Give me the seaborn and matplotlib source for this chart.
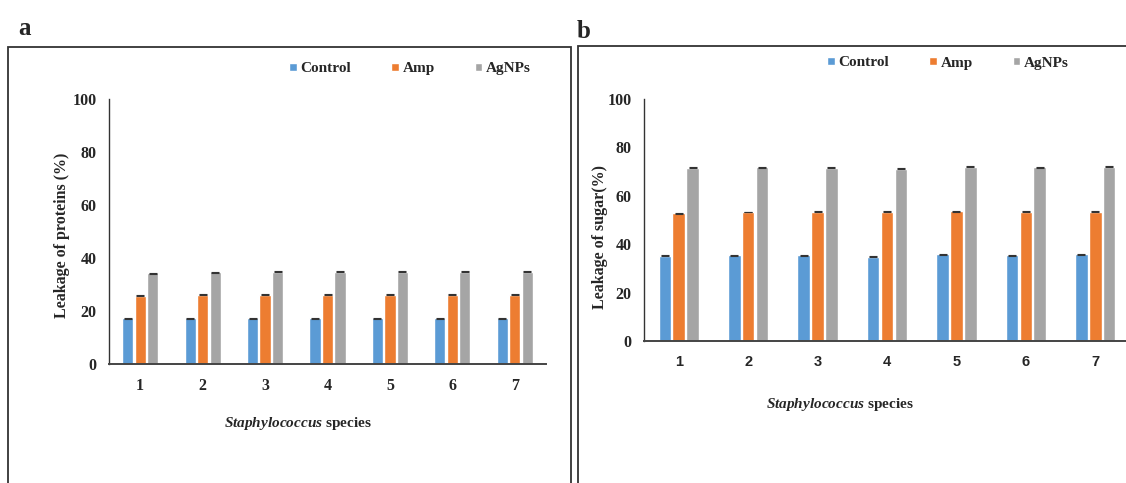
import numpy as np
import pandas as pd
import matplotlib
matplotlib.use("Agg")
import matplotlib.pyplot as plt
from matplotlib.patches import Rectangle
from matplotlib.container import BarContainer
import seaborn as sns

# ── Données ─────────────────────────────────────────────────────
species = ["1", "2", "3", "4", "5", "6", "7"]
treatments = ["Control", "Amp", "AgNPs"]

protein_control = [17.2, 17.2, 17.2, 17.2, 17.2, 17.2, 17.2]
protein_amp = [25.8, 26.1, 26.1, 26.1, 26.1, 26.1, 26.1]
protein_agnps = [34.3, 34.6, 34.9, 34.9, 34.9, 34.9, 34.9]

sugar_control = [35.2, 35.5, 35.5, 34.9, 35.8, 35.5, 35.8]
sugar_amp = [52.8, 53.3, 53.5, 53.5, 53.7, 53.5, 53.5]
sugar_agnps = [71.5, 71.8, 71.5, 71.1, 72.1, 71.8, 72.1]

sd = 0.2  # barres d'erreur très petites

colors = ["#5B9BD5", "#ED7D31", "#A5A5A5"]

sns.set_theme(style="white")
plt.rcParams["font.family"] = ["Liberation Serif", "DejaVu Serif"]
plt.rcParams["font.weight"] = "bold"
plt.rcParams["mathtext.fontset"] = "custom"
plt.rcParams["mathtext.it"] = "Liberation Serif:italic:bold"
plt.rcParams["mathtext.rm"] = "Liberation Serif:bold"

W, H = 1126, 483
fig = plt.figure(figsize=(W / 100, H / 100), dpi=100)


def long_df(ctrl, amp, ag):
    rows = []
    for vals, t in zip([ctrl, amp, ag], treatments):
        for s, v in zip(species, vals):
            rows.append({"species": s, "treatment": t, "value": v})
    return pd.DataFrame(rows)


def draw_panel(ax, df, ylabel, tick_font, leg_center, xlab_pos, ylab_pos):
    sns.barplot(data=df, x="species", y="value", hue="treatment",
                hue_order=treatments, palette=colors, width=0.6, gap=0.1,
                errorbar=None, saturation=1, ax=ax)
    # petites barres d'erreur
    bar_conts = [c for c in ax.containers if isinstance(c, BarContainer)]
    for cont in bar_conts:
        xs = [b.get_x() + b.get_width() / 2 for b in cont.patches]
        ys = [b.get_height() for b in cont.patches]
        ax.errorbar(xs, ys, yerr=sd, fmt="none", ecolor="#333333",
                    elinewidth=0.6, capsize=2.8, capthick=0.8)
    ax.set_ylim(0, 100)
    ax.set_xlim(-0.5, 6.5)
    ax.set_yticks([0, 20, 40, 60, 80, 100])
    ax.tick_params(axis="both", length=0)
    ax.tick_params(axis="y", pad=9, labelsize=11.5)
    ax.tick_params(axis="x", pad=10)
    for lab in ax.get_xticklabels():
        lab.set_fontfamily(tick_font)
        lab.set_fontweight("bold")
        lab.set_fontsize(11.5 if tick_font == "Liberation Serif" else 10.5)
    for lab in ax.get_yticklabels():
        lab.set_fontweight("bold")
    for side in ["top", "right"]:
        ax.spines[side].set_visible(False)
    ax.spines["left"].set_color("#333333")
    ax.spines["bottom"].set_color("#444444")
    ax.spines["left"].set_linewidth(1.0)
    ax.spines["bottom"].set_linewidth(1.4)
    ax.set_ylabel(ylabel, fontsize=11.5, fontweight="bold")
    ax.yaxis.set_label_coords(*ylab_pos)
    ax.yaxis.label.set_va("center")
    ax.set_xlabel(r"$\it{Staphylococcus}$ species", fontsize=11,
                  fontweight="bold")
    ax.xaxis.set_label_coords(*xlab_pos)
    ax.xaxis.label.set_va("center")
    sns.move_legend(ax, "center", bbox_to_anchor=leg_center,
                    bbox_transform=fig.transFigure, ncol=3, frameon=False,
                    title=None, fontsize=11, handlelength=0.5,
                    handleheight=0.5, handletextpad=0.25,
                    columnspacing=2.6)
    for t in ax.get_legend().get_texts():
        t.set_fontweight("bold")


# ── Panneau a : protéines ──────────────────────────────────────
ax_a = fig.add_axes([109 / W, 1 - 364 / H, 437 / W, 265 / H])
draw_panel(ax_a, long_df(protein_control, protein_amp, protein_agnps),
           "Leakage of proteins (%)", "Liberation Serif",
           (410 / W, 1 - 69 / H), (0.432, -0.225), (-0.107, 0.487))

# ── Panneau b : sucres ─────────────────────────────────────────
ax_b = fig.add_axes([644 / W, 1 - 341 / H, 486 / W, 242 / H])
draw_panel(ax_b, long_df(sugar_control, sugar_amp, sugar_agnps),
           "Leakage of sugar(%)", "Liberation Sans",
           (948 / W, 1 - 63 / H), (0.403, -0.264), (-0.09, 0.43))

# cadres des panneaux
fig.patches.append(Rectangle((8 / W, -0.05), 563 / W, 0.05 + 1 - 47 / H,
                             transform=fig.transFigure, fill=False,
                             edgecolor="#333333", linewidth=1.3))
fig.patches.append(Rectangle((578 / W, -0.05), 0.5, 0.05 + 1 - 46 / H,
                             transform=fig.transFigure, fill=False,
                             edgecolor="#333333", linewidth=1.3))

fig.text(18 / W, 1 - 35 / H, "a", fontsize=18, fontweight="bold",
         va="baseline", ha="left")
fig.text(577 / W, 1 - 38 / H, "b", fontsize=18, fontweight="bold",
         va="baseline", ha="left")

fig.savefig("out.png", dpi=100)
plt.close()
